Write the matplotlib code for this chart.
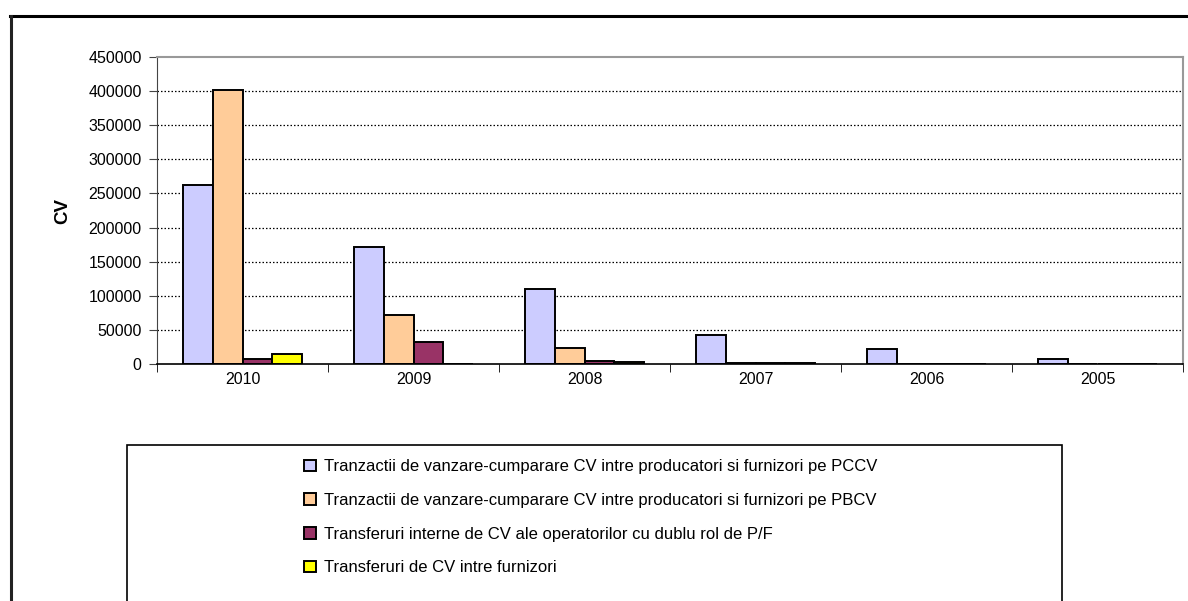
import numpy as np
import matplotlib
matplotlib.use("Agg")
import matplotlib.pyplot as plt
from matplotlib.patches import Rectangle
from matplotlib.lines import Line2D

plt.rcParams['font.family'] = ['Liberation Sans', 'DejaVu Sans']

years = ['2010', '2009', '2008', '2007', '2006', '2005']
series_names = [
    'Tranzactii de vanzare-cumparare CV intre producatori si furnizori pe PCCV',
    'Tranzactii de vanzare-cumparare CV intre producatori si furnizori pe PBCV',
    'Transferuri interne de CV ale operatorilor cu dublu rol de P/F',
    'Transferuri de CV intre furnizori',
]
pccv = [263000, 172000, 110000, 42000, 21500, 7500]
pbcv = [402000, 71500, 24000, 2000, 0, 0]
interne = [7500, 32000, 5000, 2000, 0, 0]
furnizori = [15000, 0, 2500, 2000, 0, 0]
colors = ['#CCCCFF', '#FFCC99', '#993366', '#FFFF00']
yticks = list(range(0, 450001, 50000))

fig = plt.figure(figsize=(11.88, 6.01), dpi=100)
W, H = 1188, 601

# outer frame (top and left edge visible)
fig.add_artist(Line2D([10 / W, 1.0], [1 - 16 / H, 1 - 16 / H], color='black', lw=2.2,
                      transform=fig.transFigure))
fig.add_artist(Line2D([10.5 / W, 10.5 / W], [0, 1 - 16 / H], color='#222222', lw=2.2,
                      transform=fig.transFigure))

ax = fig.add_axes([157 / W, 1 - 364 / H, (1183 - 157) / W, (364 - 57) / H])

x = np.arange(len(years))
bw = 0.175
data = [pccv, pbcv, interne, furnizori]
for i, (vals, c) in enumerate(zip(data, colors)):
    ax.bar(x + (i - 1.5) * bw, vals, bw, color=c, edgecolor='black', lw=1.4,
           label=series_names[i], zorder=3)

ax.set_xlim(-0.5, len(years) - 0.5)
ax.set_ylim(0, 450000)
ax.set_yticks(yticks)
ax.set_yticklabels([str(v) for v in yticks], fontsize=11.5)
for v in yticks[1:-1]:
    ax.axhline(v, color='black', lw=0.9, ls=(0, (1.2, 1.6)), zorder=1)

ax.set_xticks(x)
ax.set_xticklabels(years, fontsize=11.5)
ax.set_xticks(np.arange(-0.5, len(years)), minor=True)
ax.tick_params(axis='x', which='major', length=0, pad=6)
ax.tick_params(axis='x', which='minor', length=6, direction='out', color='black')
ax.tick_params(axis='y', length=6, direction='out', color='#444444', pad=5)

ax.spines['top'].set_color('#999999')
ax.spines['right'].set_color('#999999')
ax.spines['top'].set_linewidth(1.5)
ax.spines['right'].set_linewidth(1.5)
ax.spines['left'].set_color('#444444')
ax.spines['bottom'].set_color('black')
ax.spines['bottom'].set_linewidth(1.2)
ax.spines['bottom'].set_zorder(4)

ax.set_ylabel('CV', fontsize=13.5, fontweight='bold')
ax.yaxis.set_label_coords(-0.084, 0.5)

# legend box
fig.add_artist(Rectangle((127 / W, -0.01), (1062 - 127) / W, 1 - 445 / H + 0.01,
                         transform=fig.transFigure, fill=False, ec='black', lw=1.2))
leg = fig.legend(loc='upper left', bbox_to_anchor=(296 / W, 1 - 451 / H), frameon=False,
                 fontsize=12, handlelength=0.7, handleheight=0.7, handletextpad=0.45,
                 labelspacing=1.12, borderpad=0)

fig.savefig('out.png', dpi=100)
